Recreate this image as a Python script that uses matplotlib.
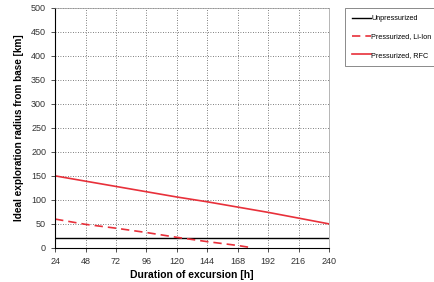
import numpy as np
import matplotlib.pyplot as plt

plt.rcParams['font.family'] = ['Liberation Sans', 'DejaVu Sans']

hours = [24, 48, 72, 96, 120, 144, 168, 192, 216, 240]
unpressurized = [20, 20, 20, 20, 20, 20, 20, 20, 20, 20]
rfc = [150, 139, 128, 117, 106, 96, 85, 74, 62, 50]
liion_hours = [24, 48, 72, 96, 120, 144, 168, 180]
liion = [60, 49, 41, 32, 22, 13, 5, 0]

fig = plt.figure(figsize=(4.34, 2.82), dpi=100)
ax = fig.add_axes([0.127, 0.121, 0.631, 0.851])

ax.plot(hours, unpressurized, color='black', lw=1.0, label='Unpressurized')
ax.plot(liion_hours, liion, color='#e8303a', lw=1.2, ls=(0, (5, 3)), label='Pressurized, Li-Ion')
ax.plot(hours, rfc, color='#e8303a', lw=1.2, label='Pressurized, RFC')

ax.set_xlim(24, 240)
ax.set_ylim(0, 500)
ax.set_xticks(hours)
ax.set_yticks(np.arange(0, 501, 50))
ax.grid(True, color='#555555', ls=(0, (1, 2)), lw=0.6)
ax.tick_params(labelsize=6.5, colors='#333333', length=3, width=0.6)
for s in ['top', 'right']:
    ax.spines[s].set_color('#999999')
    ax.spines[s].set_linewidth(0.5)
for s in ['left', 'bottom']:
    ax.spines[s].set_linewidth(0.8)

ax.set_xlabel('Duration of excursion [h]', fontsize=7.5, fontweight='bold', labelpad=3)
ax.set_ylabel('Ideal exploration radius from base [km]', fontsize=7.2, fontweight='bold', labelpad=5)

leg = fig.legend(loc='upper left', bbox_to_anchor=(0.786, 0.985), fontsize=5.2,
                 frameon=True, fancybox=False, edgecolor='#555555',
                 handlelength=2.6, borderpad=1.0, labelspacing=1.55, handletextpad=0.1)
leg.get_frame().set_linewidth(0.6)

fig.savefig('out.png', dpi=100)
